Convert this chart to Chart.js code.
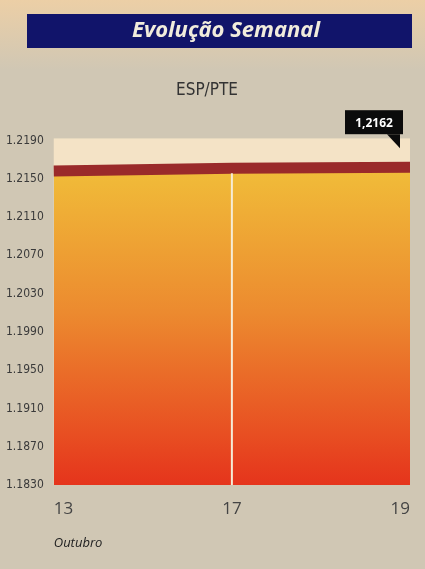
<!DOCTYPE html>
<html>
<head>
<meta charset="utf-8">
<script src="https://cdn.jsdelivr.net/npm/chart.js@4/dist/chart.umd.min.js"></script>
<style>
    html, body { margin: 0; padding: 0; background: #cfc6b3; }
    #wrap { position: relative; width: 425px; height: 569px; }
</style>
</head>
<body>
<div id="wrap"><canvas id="week-chart" width="425" height="569"></canvas></div>
<script>
// values
const days = ['13', '17', '19'];
const rates = [1.2158, 1.2161, 1.2162];
const yMin = 1.1830;
const yMax = 1.2190;
const yStep = 0.0040;
const title = 'Evolução Semanal';
const pair = 'ESP/PTE';
const monthName = 'Outubro';

const narrow = '"Liberation Sans Narrow", "DejaVu Sans Condensed", sans-serif';

function fillGradient(ctx) {
    const area = ctx.chart.chartArea;
    if (!area) {
        return '#ec8a30';
    }
    const g = ctx.chart.ctx.createLinearGradient(0, area.top, 0, area.bottom);
    g.addColorStop(0, '#f2c43a');
    g.addColorStop(0.12, '#f0b838');
    g.addColorStop(0.5, '#ec8a2f');
    g.addColorStop(0.85, '#e84f22');
    g.addColorStop(1, '#e5341c');
    return g;
}

new Chart(document.getElementById('week-chart'), {
    type: 'line',
    data: {
        labels: days,
        datasets: [{
            data: rates,
            borderColor: '#9a2a2a',
            borderWidth: 11,
            backgroundColor: fillGradient,
            fill: 'start',
            pointRadius: 0,
            tension: 0
        }]
    },
    options: {
        responsive: false,
        animation: false,
        layout: {
            padding: { top: 80, left: 4, right: 15, bottom: 14 }
        },
        plugins: {
            legend: { display: false },
            tooltip: { enabled: false },
            title: {
                display: true,
                text: pair,
                color: '#333',
                font: { family: narrow, size: 17, weight: 'normal' },
                padding: { top: 0, bottom: 40 }
            }
        },
        scales: {
            x: {
                offset: false,
                grid: { display: false },
                border: { display: false },
                ticks: {
                    align: 'inner',
                    color: '#444',
                    padding: 6,
                    font: { family: '"Open Sans", sans-serif', size: 17 }
                },
                title: {
                    display: true,
                    text: monthName,
                    align: 'start',
                    color: '#222',
                    padding: { top: 10 },
                    font: { family: '"Open Sans", sans-serif', size: 13, style: 'italic' }
                }
            },
            y: {
                min: yMin,
                max: yMax,
                grid: { display: false },
                border: { display: false },
                ticks: {
                    stepSize: yStep,
                    color: '#3a3a3a',
                    padding: 2,
                    font: { family: narrow, size: 12 },
                    callback: v => v.toFixed(4)
                }
            }
        }
    },
    plugins: [{
        id: 'page-and-panel',
        beforeDraw: (chart) => {
            const ctx = chart.ctx;
            const area = chart.chartArea;
            ctx.save();
            // paper background
            const bg = ctx.createLinearGradient(0, 0, 0, 70);
            bg.addColorStop(0, '#eccfa6');
            bg.addColorStop(1, '#d0c7b4');
            ctx.fillStyle = bg;
            ctx.fillRect(0, 0, chart.width, chart.height);
            // banner
            ctx.fillStyle = '#11146a';
            ctx.fillRect(27, 14, 385, 34);
            ctx.fillStyle = '#f1ecdc';
            ctx.font = 'italic bold 22px "Open Sans", sans-serif';
            ctx.textAlign = 'center';
            ctx.textBaseline = 'middle';
            ctx.fillText(title, 226, 31);
            // cream band above the line
            ctx.fillStyle = '#f4e3c6';
            ctx.fillRect(area.left, area.top - 2, area.right - area.left, area.bottom - area.top + 2);
            ctx.restore();
        },
        afterDatasetsDraw: (chart) => {
            const ctx = chart.ctx;
            const x = chart.scales.x;
            const y = chart.scales.y;
            ctx.save();
            // white marker at the middle day
            const xm = x.getPixelForValue(1);
            ctx.strokeStyle = '#f6ecd6';
            ctx.lineWidth = 2;
            ctx.beginPath();
            ctx.moveTo(xm, y.getPixelForValue(rates[1]) + 5);
            ctx.lineTo(xm, chart.chartArea.bottom);
            ctx.stroke();

            // callout with last value
            const last = rates.length - 1;
            const px = x.getPixelForValue(last);
            const py = y.getPixelForValue(rates[last]);
            const right = px - 7;
            const bottom = py - 33;
            const w = 58;
            const h = 24;
            ctx.fillStyle = '#0b0b0b';
            ctx.fillRect(right - w, bottom - h, w, h);
            ctx.beginPath();
            ctx.moveTo(right - 16, bottom);
            ctx.lineTo(right - 3, bottom);
            ctx.lineTo(right - 3, bottom + 14);
            ctx.closePath();
            ctx.fill();
            ctx.fillStyle = '#ffffff';
            ctx.font = 'bold 12px "Open Sans", sans-serif';
            ctx.textAlign = 'center';
            ctx.textBaseline = 'middle';
            ctx.fillText(rates[last].toFixed(4).replace('.', ','), right - w / 2, bottom - h / 2 + 1);
            ctx.restore();
        }
    }]
});
</script>
</body>
</html>
